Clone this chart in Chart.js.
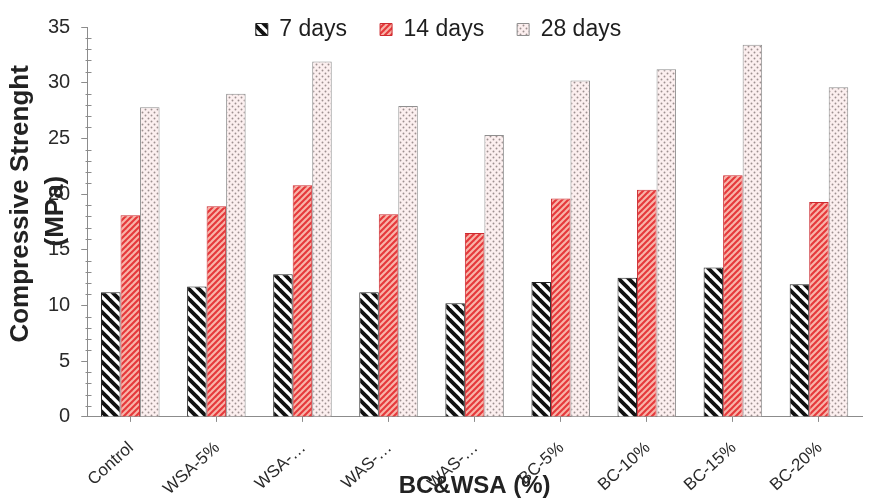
<!DOCTYPE html>
<html>
<head>
<meta charset="utf-8">
<script src="https://cdn.jsdelivr.net/npm/chart.js@4.4.0/dist/chart.umd.min.js"></script>
<style>
  html, body { margin: 0; padding: 0; background: #fff; }
</style>
</head>
<body>
<canvas id="strengthChart" width="871" height="503"></canvas>
<script>
// Data
const mixes = ['Control', 'WSA-5%', 'WSA-…', 'WAS-…', 'WAS-…', 'BC-5%', 'BC-10%', 'BC-15%', 'BC-20%'];
const days7 = [11.2, 11.7, 12.8, 11.2, 10.2, 12.1, 12.5, 13.4, 11.9];
const days14 = [18.1, 18.9, 20.8, 18.2, 16.5, 19.6, 20.4, 21.7, 19.3];
const days28 = [27.8, 29.0, 31.9, 27.9, 25.3, 30.2, 31.2, 33.4, 29.6];
const seriesNames = ['7 days', '14 days', '28 days'];
const yTicks = [0, 5, 10, 15, 20, 25, 30, 35];

Chart.defaults.font.family = "'Liberation Sans', Arial, sans-serif";
Chart.defaults.color = '#333';

const ctx = document.getElementById('strengthChart').getContext('2d');
const axisGrey = '#8c8c8c';

// Fill patterns for the bars
const makePattern = (size, draw) => {
    const c = document.createElement('canvas');
    c.width = size;
    c.height = size;
    draw(c.getContext('2d'), size);
    return ctx.createPattern(c, 'repeat');
};

const blackStripes = makePattern(10, (g, s) => {
    g.fillStyle = '#fff';
    g.fillRect(0, 0, s, s);
    g.strokeStyle = '#111';
    g.lineWidth = 3.8;
    for (const k of [-s, 0, s]) {
        g.beginPath();
        g.moveTo(k - 2, -2);
        g.lineTo(k + s + 2, s + 2);
        g.stroke();
    }
});

const redStripes = makePattern(6, (g, s) => {
    g.fillStyle = '#f8b4a9';
    g.fillRect(0, 0, s, s);
    g.strokeStyle = '#e5383b';
    g.lineWidth = 2.1;
    for (const k of [-s, 0, s]) {
        g.beginPath();
        g.moveTo(k - 2, s + 2);
        g.lineTo(k + s + 2, -2);
        g.stroke();
    }
});

const greyDots = makePattern(6, (g, s) => {
    g.fillStyle = '#fcefef';
    g.fillRect(0, 0, s, s);
    g.fillStyle = '#9d8f8f';
    for (const [px, py] of [[1.5, 1.5], [4.5, 4.5]]) {
        g.beginPath();
        g.arc(px, py, 0.95, 0, Math.PI * 2);
        g.fill();
    }
});

// Small unlabeled ticks every 1 MPa on the value axis
const minorTicks = {
    id: 'minorTicks',
    afterDraw(chart) {
        const y = chart.scales.y;
        const x0 = Math.round(chart.chartArea.left) + 0.5;
        const g = chart.ctx;
        g.save();
        g.strokeStyle = axisGrey;
        g.lineWidth = 1;
        for (let v = y.min; v <= y.max; v++) {
            if (v % 5 === 0) continue;
            const py = Math.round(y.getPixelForValue(v)) + 0.5;
            g.beginPath();
            g.moveTo(x0 - 2, py);
            g.lineTo(x0 + 4, py);
            g.stroke();
        }
        g.restore();
    }
};

// The legend sits over the top of the plot in the original
const legendNudge = {
    id: 'legendNudge',
    afterLayout(chart) {
        const lg = chart.legend;
        lg.top = -15;
        lg.bottom = 60;
        lg.height = 75;
        lg.left += 6;
        lg.right += 6;
    }
};

const strengthChart = new Chart(ctx, {
    type: 'bar',
    data: {
        labels: mixes,
        datasets: [
            { label: seriesNames[0], data: days7, backgroundColor: blackStripes, borderColor: '#222', borderWidth: 1 },
            { label: seriesNames[1], data: days14, backgroundColor: redStripes, borderColor: '#cc2a2f', borderWidth: 1 },
            { label: seriesNames[2], data: days28, backgroundColor: greyDots, borderColor: '#8f8f8f', borderWidth: 1 }
        ]
    },
    options: {
        responsive: false,
        animation: false,
        layout: { padding: { left: 3, right: 9, top: 0, bottom: 0 } },
        datasets: {
            bar: { barPercentage: 1, categoryPercentage: 0.68 }
        },
        plugins: {
            legend: {
                position: 'top',
                maxHeight: 27,
                labels: {
                    boxWidth: 12,
                    boxHeight: 12,
                    padding: 33,
                    color: '#1e1e1e',
                    font: { size: 23 }
                }
            },
            tooltip: { enabled: false }
        },
        scales: {
            x: {
                grid: { offset: false, drawOnChartArea: false, tickLength: 5, color: axisGrey },
                border: { color: axisGrey },
                ticks: {
                    autoSkip: false,
                    minRotation: 42,
                    maxRotation: 42,
                    padding: 16,
                    labelOffset: 1,
                    color: '#2a2a2a',
                    font: { size: 17 }
                },
                title: {
                    display: true,
                    text: 'BC&WSA (%)',
                    color: '#222',
                    font: { size: 24, weight: 'bold' },
                    padding: { top: -43, bottom: 2 }
                }
            },
            y: {
                min: yTicks[0],
                max: yTicks[yTicks.length - 1],
                afterBuildTicks: scale => {
                    scale.ticks = yTicks.map(v => ({ value: v }));
                },
                grid: { drawOnChartArea: false, tickLength: 6, color: axisGrey },
                border: { color: axisGrey },
                ticks: {
                    padding: 11,
                    color: '#2a2a2a',
                    font: { size: 20 }
                },
                title: {
                    display: true,
                    text: ['     Compressive Strenght', '   (MPa)'],
                    color: '#222',
                    font: { size: 26, weight: 'bold', lineHeight: '35px' },
                    padding: { top: 0, bottom: -36 }
                }
            }
        }
    },
    plugins: [minorTicks, legendNudge]
});
</script>
</body>
</html>
